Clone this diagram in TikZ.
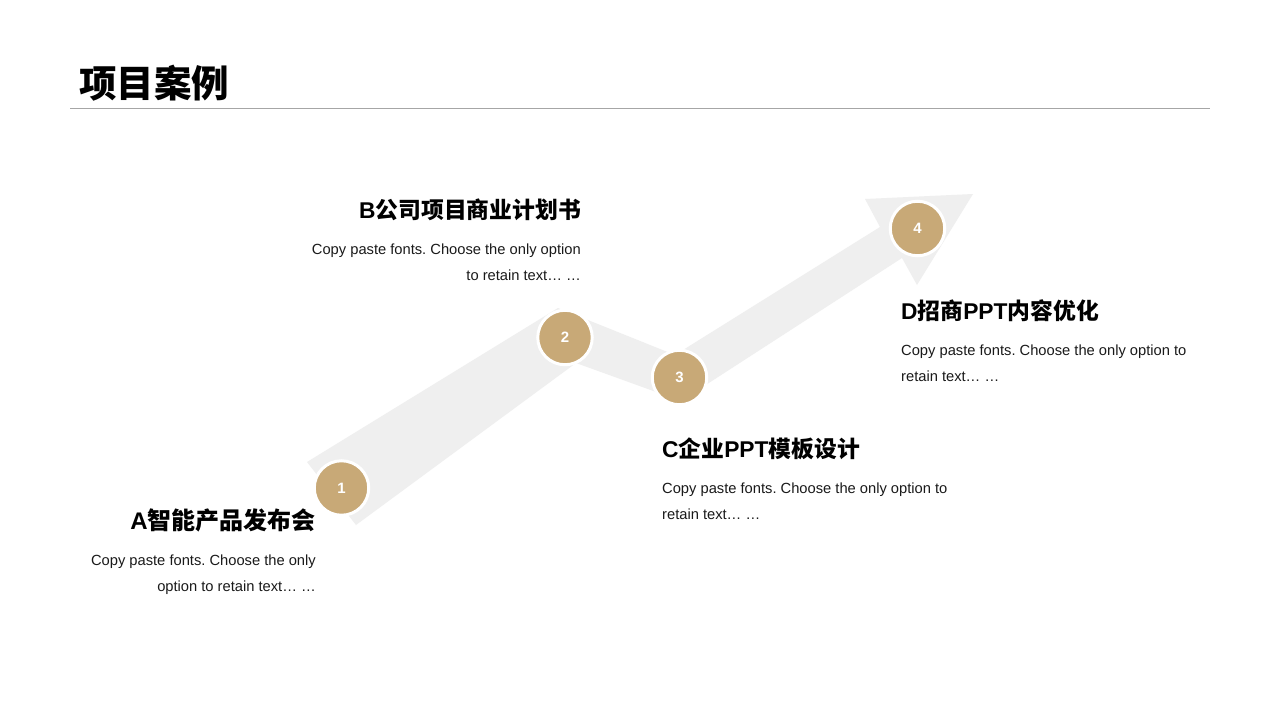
\documentclass[tikz,border=0pt]{standalone}
\usepackage{fontspec}
\setmainfont{Liberation Sans}
\newfontfamily\cjk{Noto Sans CJK SC}
\definecolor{tan}{HTML}{C8A977}
\definecolor{bandgray}{HTML}{EFEFEF}
\definecolor{rulegray}{HTML}{A6A6A6}
\definecolor{bodytext}{HTML}{1A1A1A}
\frenchspacing
\begin{document}
\begin{tikzpicture}[x=1pt,y=-1pt,
  circ/.style={circle,fill=tan,draw=white,line width=3pt,minimum size=54.5pt,inner sep=0pt,
    text=white,font=\fontsize{15}{15}\selectfont\bfseries},
  headl/.style={inner sep=0pt,anchor=base west,font=\fontsize{22.8}{26}\selectfont\bfseries},
  headr/.style={inner sep=0pt,anchor=base east,font=\fontsize{22.8}{26}\selectfont\bfseries},
  bodyl/.style={inner sep=0pt,anchor=base west,text=bodytext,font=\fontsize{14.7}{18}\selectfont},
  bodyr/.style={inner sep=0pt,anchor=base east,text=bodytext,font=\fontsize{14.7}{18}\selectfont}]
\useasboundingbox[fill=white] (0,0) rectangle (1280,720);
% title
\node[inner sep=0pt,anchor=base west,font=\fontsize{37.5}{40}\selectfont\cjk\bfseries] (title) at (79,97) {项目案例};
\draw[rulegray,line width=1pt] (70,108) -- (1210,108);
% zig-zag arrow
\fill[bandgray] (307,462) -- (558,308) -- (675,355) -- (880,227) -- (865,199) -- (973,194)
  -- (917,285) -- (902,258) -- (681,401) -- (576,363) -- (356,525) -- cycle;
% circles
\node[circ] (c1) at (341.5,488) {1};
\node[circ] (c2) at (565,337.5) {2};
\node[circ] (c3) at (679.5,377.5) {3};
\node[circ] (c4) at (917.5,228.5) {4};
% A
\node[headr,font=\fontsize{24}{26}\selectfont\bfseries] (ha) at (316,529) {A{\cjk 智能产品发布会}};
\node[bodyr] (a1) at (316,565) {Copy paste fonts. Choose the only};
\node[bodyr] (a2) at (316,591) {option to retain text\dots\ \dots};
% B
\node[headr] (hb) at (581,218) {B{\cjk 公司项目商业计划书}};
\node[bodyr] (b1) at (581,254) {Copy paste fonts. Choose the only option};
\node[bodyr] (b2) at (581,280) {to retain text\dots\ \dots};
% C
\node[headl] (hc) at (662,457) {C{\cjk 企业}PPT{\cjk 模板设计}};
\node[bodyl] (cc1) at (662,493) {Copy paste fonts. Choose the only option to};
\node[bodyl] (cc2) at (662,519) {retain text\dots\ \dots};
% D
\node[headl] (hd) at (901,319) {D{\cjk 招商}PPT{\cjk 内容优化}};
\node[bodyl] (d1) at (901,355) {Copy paste fonts. Choose the only option to};
\node[bodyl] (d2) at (901,381) {retain text\dots\ \dots};
\end{tikzpicture}
\end{document}
